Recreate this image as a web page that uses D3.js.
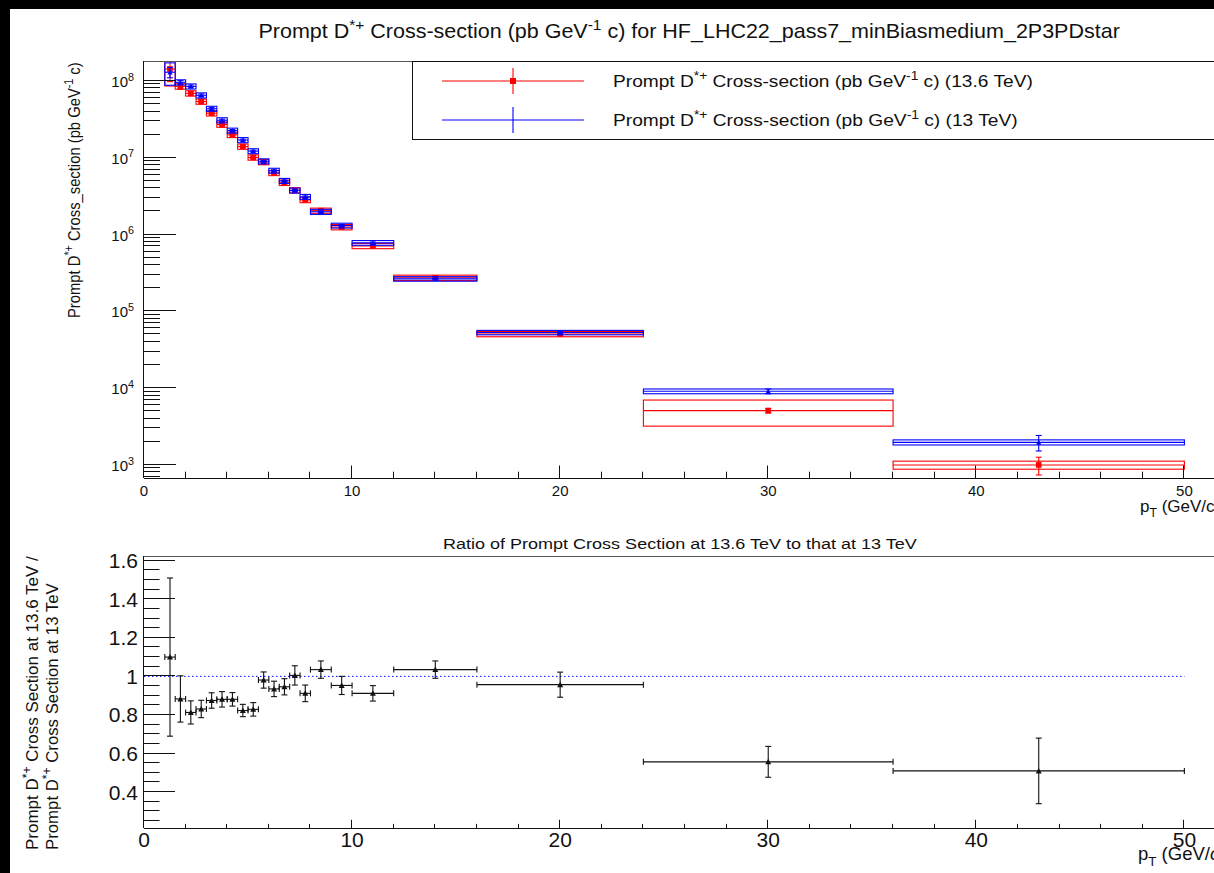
<!DOCTYPE html>
<html>
<head>
<meta charset="utf-8">
<script src="https://cdn.jsdelivr.net/npm/d3@7"></script>
<style>
  html, body { margin: 0; padding: 0; background: #000; }
  svg { display: block; }
</style>
</head>
<body>
<svg id="chart" width="1214" height="873"></svg>
<script>
// ---- pT binning (GeV/c) ----
const binLow  = [1, 1.5, 2, 2.5, 3, 3.5, 4, 4.5, 5, 5.5, 6, 6.5, 7, 7.5, 8, 9, 10, 12, 16, 24, 36];
const binHigh = [1.5, 2, 2.5, 3, 3.5, 4, 4.5, 5, 5.5, 6, 6.5, 7, 7.5, 8, 9, 10, 12, 16, 24, 36, 50];

// ---- prompt D*+ cross section at 13.6 TeV (pb GeV^-1 c) ----
const xsec136     = [1.43e8, 8.5e7, 6.9e7, 5.4e7, 3.8e7, 2.71e7, 1.99e7, 1.40e7, 1.01e7, 8.8e6, 6.35e6, 4.73e6, 3.77e6, 2.83e6, 2.05e6, 1.25e6, 7.1e5, 2.74e5, 5.07e4, 5.1e3, 1.0e3];
const xsec136Stat = [4.5e7, 7.0e6, 3.5e6, 2.2e6, 1.3e6, 9.0e5, 6.0e5, 4.5e5, 3.2e5, 2.6e5, 1.9e5, 1.5e5, 1.2e5, 9.0e4, 6.0e4, 4.0e4, 2.0e4, 8.0e3, 1.8e3, 3.5e2, 2.6e2];
const xsec136Syst = [5.7e7, 6.8e6, 5.5e6, 4.3e6, 3.0e6, 2.2e6, 1.6e6, 1.1e6, 8.0e5, 7.0e5, 5.0e5, 3.8e5, 3.0e5, 2.3e5, 1.6e5, 1.0e5, 5.5e4, 2.2e4, 4.0e3, 1.9e3, 1.2e2];

// ---- prompt D*+ cross section at 13 TeV (pb GeV^-1 c) ----
const xsec13     = [1.30e8, 9.6e7, 8.5e7, 6.5e7, 4.35e7, 3.08e7, 2.26e7, 1.70e7, 1.22e7, 9.0e6, 6.8e6, 5.0e6, 3.75e6, 3.1e6, 1.98e6, 1.31e6, 7.8e5, 2.65e5, 5.3e4, 9.1e3, 1.97e3];
const xsec13Stat = [2.0e7, 5.0e6, 3.5e6, 2.5e6, 1.5e6, 1.0e6, 7.0e5, 5.0e5, 3.5e5, 2.5e5, 1.8e5, 1.4e5, 1.0e5, 8.0e4, 5.0e4, 3.5e4, 2.0e4, 7.0e3, 1.8e3, 6.5e2, 4.5e2];
const xsec13Syst = [4.2e7, 7.5e6, 6.5e6, 5.0e6, 3.3e6, 2.4e6, 1.7e6, 1.3e6, 9.0e5, 6.8e5, 5.0e5, 3.8e5, 2.8e5, 2.3e5, 1.5e5, 9.5e4, 5.5e4, 1.8e4, 3.5e3, 6.5e2, 1.5e2];

// ---- ratio 13.6 TeV / 13 TeV ----
const ratio    = [1.10, 0.883, 0.813, 0.831, 0.875, 0.881, 0.881, 0.823, 0.829, 0.981, 0.935, 0.946, 1.005, 0.912, 1.035, 0.953, 0.912, 1.035, 0.957, 0.557, 0.51];
const ratioErr = [0.41, 0.12, 0.06, 0.045, 0.04, 0.04, 0.035, 0.032, 0.035, 0.042, 0.04, 0.042, 0.05, 0.043, 0.045, 0.047, 0.04, 0.045, 0.065, 0.08, 0.17];

// ---- axis ticks ----
const xMajorTicks = [0, 10, 20, 30, 40, 50];
const xMinorStep = 2;
const logDecades = [3, 4, 5, 6, 7, 8];
const ratioMajorTicks = [0.4, 0.6, 0.8, 1.0, 1.2, 1.4, 1.6];
const ratioTickLabels = ["0.4", "0.6", "0.8", "1", "1.2", "1.4", "1.6"];
const ratioMinorStep = 0.05;

const FONT = "'Liberation Sans', Arial, Helvetica, sans-serif";
const RED = "#ff0000", BLUE = "#0000ff", INK = "#111";

const svg = d3.select("#chart");
// canvas area (black border on top/left)
svg.append("rect").attr("x", 10).attr("y", 9).attr("width", 1204).attr("height", 864).attr("fill", "#fff");

// ---- rich text helper: parts = [[text, kind]], kind: n | sup | sub | it ----
function rich(parent, x, y, parts, o) {
  const size = o.size, rot = o.rotate || 0;
  const g = parent.append("g").attr("transform", `translate(${x},${y}) rotate(${rot})`);
  const inner = g.append("g");
  const t = inner.append("text").attr("font-family", FONT).attr("font-size", size).attr("fill", o.color || INK);
  let shift = 0;
  parts.forEach(([txt, kind]) => {
    let target = 0, fs = size, style = null;
    if (kind === "sup") { target = -size * 0.42; fs = size * 0.72; }
    if (kind === "sub") { target = size * 0.3; fs = size * 0.72; }
    if (kind === "it") style = "italic";
    const ts = t.append("tspan").attr("dy", target - shift).attr("font-size", fs).text(txt);
    if (style) ts.attr("font-style", style);
    shift = target;
  });
  const w = t.node().getComputedTextLength();
  const sx = o.width ? o.width / w : 1;
  const off = o.anchor === "middle" ? -w / 2 : o.anchor === "end" ? -w : 0;
  inner.attr("transform", `scale(${sx},1) translate(${off},0)`);
  return g;
}

// ================= upper pad =================
const up = { left: 144, top: 61, bottom: 478, right: 1226 };
const x1 = d3.scaleLinear().domain([0, 52]).range([up.left, up.right]);
const y1 = d3.scaleLog().domain([Math.pow(10, 2.83), Math.pow(10, 8.26)]).range([up.bottom, up.top]);

svg.append("defs").append("clipPath").attr("id", "clipUp")
  .append("rect").attr("x", up.left).attr("y", up.top).attr("width", up.right - up.left).attr("height", up.bottom - up.top);
svg.select("defs").append("clipPath").attr("id", "clipLo")
  .append("rect").attr("x", 144).attr("y", 556).attr("width", 1082).attr("height", 272);

// title
rich(svg, 689.5, 38, [["Prompt D", "n"], ["*+", "sup"], [" Cross-section (pb GeV", "n"], ["-1", "sup"], [" c) for HF_LHC22_pass7_minBiasmedium_2P3PDstar", "n"]],
  { size: 20, anchor: "middle", width: 862 });

// data layer
const upG = svg.append("g").attr("clip-path", "url(#clipUp)");

function drawSeries(vals, stat, syst, color, marker) {
  const g = upG.append("g").attr("stroke", color).attr("fill", "none").attr("stroke-width", 1.1);
  vals.forEach((v, i) => {
    const xl = x1(binLow[i]), xh = x1(binHigh[i]), xc = x1((binLow[i] + binHigh[i]) / 2);
    // systematic box
    g.append("rect").attr("x", xl).attr("width", xh - xl)
      .attr("y", y1(v + syst[i])).attr("height", y1(v - syst[i]) - y1(v + syst[i]));
    // bin width
    g.append("line").attr("x1", xl).attr("x2", xh).attr("y1", y1(v)).attr("y2", y1(v));
    // statistical error with caps
    const yt = y1(v + stat[i]), yb = y1(v - stat[i]);
    g.append("line").attr("x1", xc).attr("x2", xc).attr("y1", yt).attr("y2", yb);
    g.append("line").attr("x1", xc - 3).attr("x2", xc + 3).attr("y1", yt).attr("y2", yt);
    g.append("line").attr("x1", xc - 3).attr("x2", xc + 3).attr("y1", yb).attr("y2", yb);
    // marker
    if (marker === "square") {
      g.append("rect").attr("x", xc - 2.8).attr("y", y1(v) - 2.8).attr("width", 5.6).attr("height", 5.6)
        .attr("fill", color).attr("stroke", "none");
    } else {
      const yc = y1(v);
      g.append("path").attr("d", `M${xc - 2.6},${yc + 2.2}L${xc + 2.6},${yc + 2.2}L${xc},${yc - 2.6}Z`)
        .attr("fill", color).attr("stroke", "none");
    }
  });
}
drawSeries(xsec136, xsec136Stat, xsec136Syst, RED, "square");
drawSeries(xsec13, xsec13Stat, xsec13Syst, BLUE, "triangle");

// frame + axes
const axU = svg.append("g").attr("stroke", INK).attr("stroke-width", 1).attr("fill", "none");
axU.append("line").attr("x1", up.left).attr("x2", 1214).attr("y1", up.top + 0.5).attr("y2", up.top + 0.5).attr("stroke", "#555");
axU.append("line").attr("x1", up.left - 0.5).attr("x2", up.left - 0.5).attr("y1", up.top).attr("y2", up.bottom);
axU.append("line").attr("x1", up.left).attr("x2", 1214).attr("y1", up.bottom + 0.5).attr("y2", up.bottom + 0.5);

// x ticks (upper)
d3.range(0, 52.01, xMinorStep).forEach(v => {
  const major = xMajorTicks.includes(v);
  const xx = Math.round(x1(v)) - 0.5;
  axU.append("line").attr("x1", xx).attr("x2", xx).attr("y1", up.bottom).attr("y2", up.bottom - (major ? 12.5 : 6.3));
});
xMajorTicks.forEach(v => {
  rich(svg, x1(v), 496, [[String(v), "n"]], { size: 15, anchor: "middle" });
});
rich(svg, 1140, 512, [["p", "n"], ["T", "sub"], [" (GeV/c)", "n"]], { size: 17, anchor: "start" });

// y ticks (upper, log)
const [yLo, yHi] = y1.domain();
for (let d = 2; d <= 8; d++) {
  for (let m = 1; m <= 9; m++) {
    const v = m * Math.pow(10, d);
    if (v < yLo || v > yHi) continue;
    const yy = Math.round(y1(v)) - 0.5;
    axU.append("line").attr("x1", up.left).attr("x2", up.left + (m === 1 ? 32 : 16)).attr("y1", yy).attr("y2", yy);
  }
}
logDecades.forEach(d => {
  rich(svg, 134, y1(Math.pow(10, d)) + 6, [["10", "n"], [String(d), "sup"]], { size: 15, anchor: "end" });
});
rich(svg, 80, 62, [["Prompt D", "n"], ["*+", "sup"], [" Cross_section (pb GeV", "n"], ["-1", "sup"], [" c)", "n"]],
  { size: 16.5, anchor: "end", rotate: -90, width: 256 });

// legend
const lg = svg.append("g");
lg.append("rect").attr("x", 412.5).attr("y", 61.5).attr("width", 820).attr("height", 78)
  .attr("fill", "#fff").attr("stroke", INK).attr("stroke-width", 1);
const legendRows = [
  { y: 81, color: RED, marker: true, label: "13.6 TeV", w: 420 },
  { y: 120, color: BLUE, marker: false, label: "13 TeV", w: 405 }
];
legendRows.forEach(r => {
  lg.append("line").attr("x1", 442).attr("x2", 584).attr("y1", r.y).attr("y2", r.y).attr("stroke", r.color).attr("stroke-width", 1.1);
  lg.append("line").attr("x1", 513).attr("x2", 513).attr("y1", r.y - 13).attr("y2", r.y + 13).attr("stroke", r.color).attr("stroke-width", 1.1);
  if (r.marker) lg.append("rect").attr("x", 510).attr("y", r.y - 3).attr("width", 6).attr("height", 6).attr("fill", r.color);
  rich(lg, 613, r.y + 6, [["Prompt D", "n"], ["*+", "sup"], [" Cross-section (pb GeV", "n"], ["-1", "sup"], [` c) (${r.label})`, "n"]],
    { size: 17, anchor: "start", width: r.w });
});

// ================= lower pad =================
const lo = { left: 144, top: 556, bottom: 828, right: 1226 };
const x2 = d3.scaleLinear().domain([0, 52]).range([lo.left, lo.right]);
const y2 = d3.scaleLinear().domain([0.214, 1.624]).range([lo.bottom, lo.top]);

rich(svg, 680, 549, [["Ratio of Prompt Cross Section at 13.6 TeV to that at 13 TeV", "n"]], { size: 15.5, anchor: "middle", width: 474 });

const loG = svg.append("g").attr("clip-path", "url(#clipLo)");
// reference line at unity
loG.append("line").attr("x1", x2(0)).attr("x2", x2(50)).attr("y1", y2(1)).attr("y2", y2(1))
  .attr("stroke", BLUE).attr("stroke-width", 1).attr("stroke-dasharray", "1.5,2.5");

const rg = loG.append("g").attr("stroke", INK).attr("stroke-width", 1.1).attr("fill", "none");
ratio.forEach((r, i) => {
  const xl = x2(binLow[i]), xh = x2(binHigh[i]), xc = x2((binLow[i] + binHigh[i]) / 2);
  const yc = y2(r), yt = y2(r + ratioErr[i]), yb = y2(r - ratioErr[i]);
  rg.append("line").attr("x1", xl).attr("x2", xh).attr("y1", yc).attr("y2", yc);
  rg.append("line").attr("x1", xl).attr("x2", xl).attr("y1", yc - 3).attr("y2", yc + 3);
  rg.append("line").attr("x1", xh).attr("x2", xh).attr("y1", yc - 3).attr("y2", yc + 3);
  rg.append("line").attr("x1", xc).attr("x2", xc).attr("y1", yt).attr("y2", yb);
  rg.append("line").attr("x1", xc - 3).attr("x2", xc + 3).attr("y1", yt).attr("y2", yt);
  rg.append("line").attr("x1", xc - 3).attr("x2", xc + 3).attr("y1", yb).attr("y2", yb);
  rg.append("path").attr("d", `M${xc - 3},${yc + 2.5}L${xc + 3},${yc + 2.5}L${xc},${yc - 3}Z`)
    .attr("fill", INK).attr("stroke", "none");
});

const axL = svg.append("g").attr("stroke", INK).attr("stroke-width", 1).attr("fill", "none");
axL.append("line").attr("x1", lo.left).attr("x2", 1214).attr("y1", lo.top + 0.5).attr("y2", lo.top + 0.5).attr("stroke", "#555");
axL.append("line").attr("x1", lo.left - 0.5).attr("x2", lo.left - 0.5).attr("y1", lo.top).attr("y2", lo.bottom);
axL.append("line").attr("x1", lo.left).attr("x2", 1214).attr("y1", lo.bottom + 0.5).attr("y2", lo.bottom + 0.5);

d3.range(0, 52.01, xMinorStep).forEach(v => {
  const major = xMajorTicks.includes(v);
  const xx = Math.round(x2(v)) - 0.5;
  axL.append("line").attr("x1", xx).attr("x2", xx).attr("y1", lo.bottom).attr("y2", lo.bottom - (major ? 8.2 : 4.1));
});
xMajorTicks.forEach(v => {
  rich(svg, x2(v), 847, [[String(v), "n"]], { size: 21, anchor: "middle" });
});
rich(svg, 1138, 860, [["p", "n"], ["T", "sub"], [" (GeV/", "n"], ["c", "it"], [")", "n"]], { size: 18.5, anchor: "start" });

const [rLo, rHi] = y2.domain();
for (let v = 0.25; v <= rHi + 1e-9; v += ratioMinorStep) {
  const vv = Math.round(v * 100) / 100;
  if (vv < rLo) continue;
  const major = ratioMajorTicks.some(t => Math.abs(t - vv) < 1e-6);
  const yy = Math.round(y2(vv)) - 0.5;
  axL.append("line").attr("x1", lo.left).attr("x2", lo.left + (major ? 31 : 15.5)).attr("y1", yy).attr("y2", yy);
}
ratioMajorTicks.forEach((t, i) => {
  rich(svg, 138, y2(t) + 7.5, [[ratioTickLabels[i], "n"]], { size: 21, anchor: "end" });
});
rich(svg, 38, 850, [["Prompt D", "n"], ["*+", "sup"], [" Cross Section at 13.6 TeV /", "n"]], { size: 16.5, anchor: "start", rotate: -90, width: 294 });
rich(svg, 58, 850, [["Prompt D", "n"], ["*+", "sup"], [" Cross Section at 13 TeV", "n"]], { size: 16.5, anchor: "start", rotate: -90, width: 267 });
</script>
</body>
</html>
